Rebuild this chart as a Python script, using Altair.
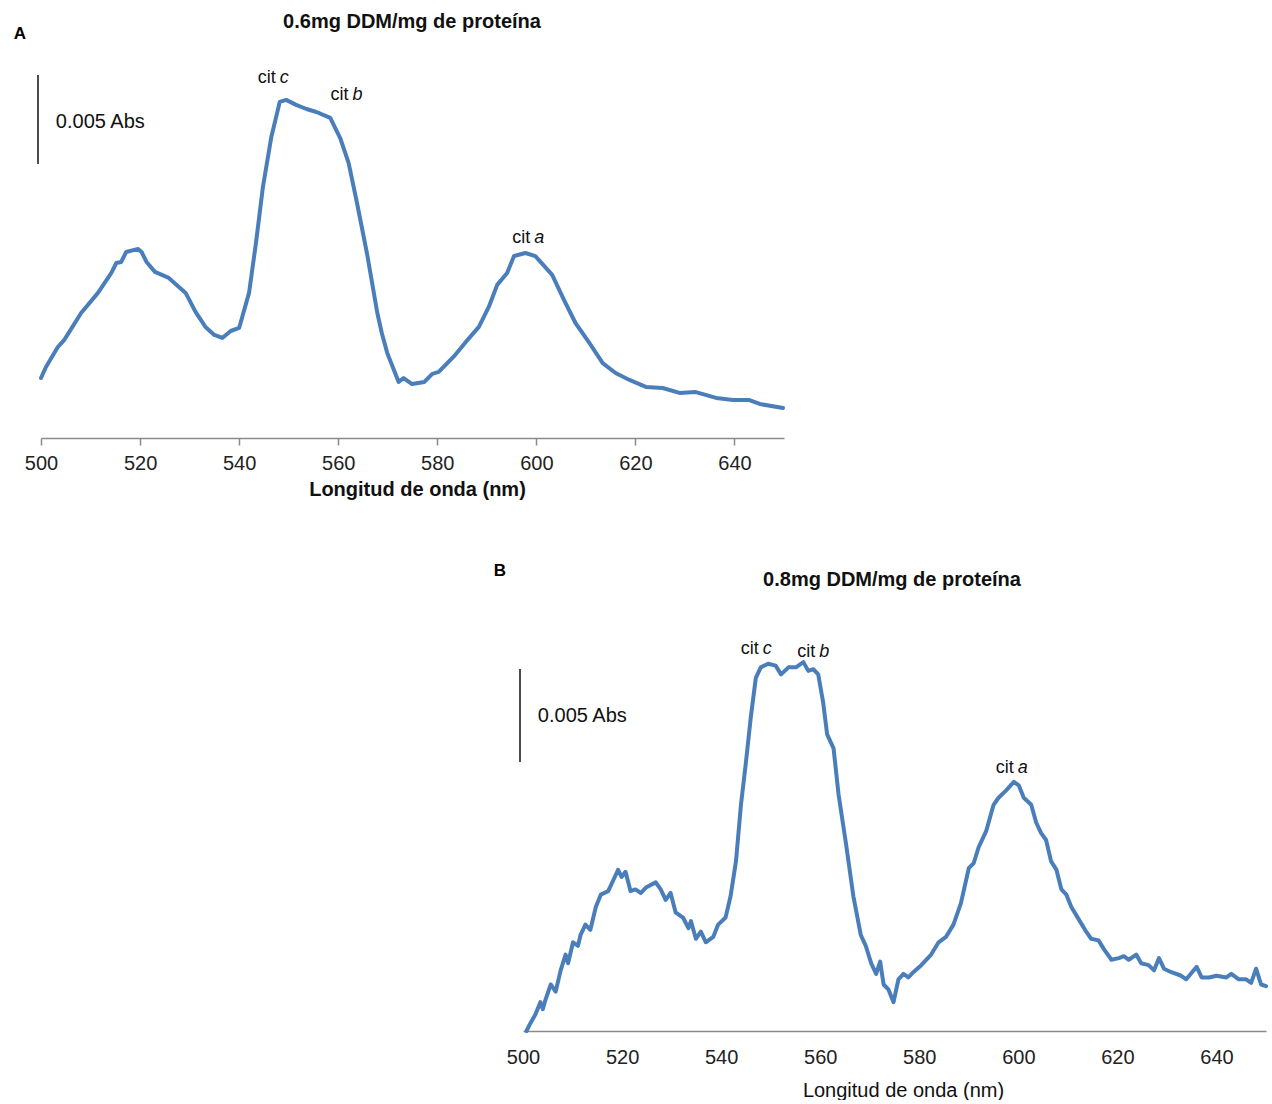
import altair as alt
import pandas as pd

FONT = "Liberation Sans, Arial, Helvetica, sans-serif"
LINE_COLOR = "#4A7EBB"

# ---------------- data (absorbance in mAbs, 1 mAbs = 0.001 Abs) ----------------
A_NM = [500, 501, 503.4, 504.7, 508.1, 511.5, 514.2, 515.2, 516.2, 517.2,
        519.6, 520.3, 521.3, 523, 525.8, 529.2, 531.2, 533.2, 535, 536.6,
        538.3, 540, 542, 543.4, 544.8, 546.5, 548.2, 549.5, 551.5, 553.6,
        555.6, 558.4, 560.4, 562.1, 563.8, 565.8, 567.9, 568.8, 569.9, 572.2,
        573.2, 574.9, 577.4, 579, 580.3, 583.6, 585.6, 588.4, 590.4, 592.1,
        594.1, 595.5, 597.8, 599.8, 603.2, 605.6, 607.9, 610.7, 613.4, 616,
        618.8, 622.1, 625.5, 628.9, 632.2, 636.3, 639.7, 643, 645.1, 649.8]
A_ABS = [3.37, 3.99, 5.11, 5.51, 7.02, 8.15, 9.27, 9.83, 9.89, 10.45,
         10.62, 10.45, 9.89, 9.33, 8.99, 8.15, 7.08, 6.24, 5.79, 5.62,
         6.01, 6.18, 8.15, 10.96, 14.10, 16.91, 18.88, 18.99, 18.71, 18.48,
         18.31, 17.98, 16.85, 15.45, 13.20, 10.39, 7.02, 5.90, 4.78, 3.15,
         3.37, 3.03, 3.15, 3.60, 3.71, 4.66, 5.34, 6.24, 7.36, 8.60,
         9.27, 10.22, 10.39, 10.22, 9.16, 7.75, 6.46, 5.34, 4.21, 3.65,
         3.26, 2.87, 2.81, 2.53, 2.58, 2.25, 2.13, 2.13, 1.91, 1.69]

B_NM = [500.7, 501.5, 502.5, 503.5, 504.0, 504.5, 505.6, 506.6, 507.6, 508.6,
        509.1, 510.1, 511.1, 511.6, 512.6, 513.6, 514.7, 515.7, 517.2, 518.2,
        519.2, 519.9, 520.7, 521.7, 522.7, 523.8, 524.8, 526.8, 527.8, 528.8,
        529.8, 530.8, 532.3, 533.4, 533.9, 534.9, 535.9, 536.9, 538.4, 539.4,
        540.9, 541.9, 543.0, 544.0, 545.0, 546.0, 547.0, 548.0, 549.5, 551.0,
        552.1, 553.6, 555.1, 556.6, 557.6, 558.6, 559.6, 560.6, 561.4, 562.7,
        563.7, 565.2, 566.7, 568.2, 569.2, 570.3, 571.3, 572.1, 572.8, 573.8,
        574.8, 575.8, 576.8, 577.8, 578.8, 580.4, 582.4, 583.9, 585.4, 586.9,
        588.4, 590.0, 591.0, 592.0, 593.5, 595.0, 596.0, 597.5, 599.1, 600.1,
        601.1, 602.6, 603.6, 604.6, 605.6, 606.6, 607.7, 608.7, 609.7, 610.7,
        612.2, 613.7, 614.7, 616.2, 617.3, 618.8, 620.3, 621.3, 622.3, 623.8,
        624.8, 626.3, 627.4, 628.4, 629.4, 630.9, 632.9, 633.9, 636.0, 637.0,
        638.5, 640.0, 642.0, 643.0, 644.5, 646.0, 647.0, 648.0, 649.0, 650.0]
B_ABS = [0.0, 0.42, 0.89, 1.55, 1.17, 1.65, 2.50, 2.12, 3.26, 4.11,
         3.64, 4.77, 4.58, 5.15, 5.72, 5.44, 6.67, 7.33, 7.52, 8.09,
         8.66, 8.28, 8.56, 7.52, 7.61, 7.42, 7.71, 7.99, 7.61, 7.05,
         7.42, 6.38, 6.10, 5.53, 5.91, 4.96, 5.34, 4.77, 5.06, 5.72,
         6.10, 7.24, 9.13, 12.16, 14.43, 16.89, 18.98, 19.55, 19.74, 19.64,
         19.17, 19.55, 19.55, 19.83, 19.36, 19.45, 19.17, 17.65, 15.95, 15.19,
         12.73, 10.08, 7.24, 5.15, 4.58, 3.64, 3.07, 3.73, 2.50, 2.22,
         1.55, 2.78, 3.07, 2.88, 3.16, 3.54, 4.11, 4.77, 5.06, 5.72,
         6.86, 8.75, 9.03, 9.89, 10.74, 12.16, 12.54, 12.92, 13.39, 13.20,
         12.54, 12.16, 11.21, 10.64, 10.27, 9.13, 8.66, 7.61, 7.33, 6.67,
         6.00, 5.34, 4.96, 4.87, 4.39, 3.83, 3.92, 4.02, 3.83, 4.11,
         3.64, 3.54, 3.26, 3.92, 3.35, 3.16, 2.97, 2.78, 3.45, 2.88,
         2.88, 2.97, 2.88, 3.07, 2.78, 2.78, 2.59, 3.35, 2.50, 2.41]

TICKS = [500, 520, 540, 560, 580, 600, 620, 640]
X_DOMAIN = [500, 650]

A_TITLE = "0.6mg DDM/mg de proteína"
B_TITLE = "0.8mg DDM/mg de proteína"
X_TITLE = "Longitud de onda (nm)"
SCALE_LABEL = "0.005 Abs"
SCALE_LEN = 5  # mAbs = 0.005 Abs

CIT_PREFIX = ["cit", "cit", "cit"]
CIT_LETTERS = ["c", "b", "a"]
A_CIT_NM = [547.8, 562.5, 599.2]
A_CIT_Y = [20.22, 19.27, 11.24]
B_CIT_NM = [548.0, 559.4, 599.5]
B_CIT_Y = [20.54, 20.38, 14.14]

PANEL_W = 743


def panel(nm, vals, ytop, height, cit_nm, cit_y, bar_top, txt_y, letter,
          letter_xy, title, title_xy, axis):
    xs = alt.Scale(domain=X_DOMAIN, nice=False, zero=False)
    ys = alt.Scale(domain=[0, ytop], nice=False, zero=False)
    X = alt.X("nm:Q", scale=xs, axis=axis)
    Y = alt.Y("abs:Q", scale=ys, axis=None)

    line = alt.Chart(pd.DataFrame({"nm": nm, "abs": vals})).mark_line(
        color=LINE_COLOR, strokeWidth=4, strokeJoin="round", strokeCap="round"
    ).encode(x=X, y=Y)

    labels = pd.DataFrame({"nm": cit_nm, "abs": cit_y,
                           "pre": CIT_PREFIX, "sp": CIT_LETTERS})
    pre = alt.Chart(labels).mark_text(
        align="right", baseline="middle", fontSize=18, font=FONT, dx=-2, color="#111"
    ).encode(x=X, y=Y, text="pre:N")
    sp = alt.Chart(labels).mark_text(
        align="left", baseline="middle", fontSize=18, font=FONT, dx=2,
        fontStyle="italic", color="#111"
    ).encode(x=X, y=Y, text="sp:N")

    bar = alt.Chart(pd.DataFrame({"abs": [bar_top - SCALE_LEN], "abs2": [bar_top]})).mark_rule(
        color="black", strokeWidth=1.4
    ).encode(x=alt.value(-3), y=Y, y2="abs2:Q")

    stxt = alt.Chart(pd.DataFrame({"nm": [503.0], "abs": [txt_y], "t": [SCALE_LABEL]})).mark_text(
        align="left", baseline="middle", fontSize=20, font=FONT, color="#111"
    ).encode(x=X, y=Y, text="t:N")

    lett = alt.Chart(pd.DataFrame({"t": [letter]})).mark_text(
        align="center", baseline="middle", fontSize=17, fontWeight="bold", font=FONT, color="#000"
    ).encode(x=alt.value(letter_xy[0]), y=alt.value(letter_xy[1]), text="t:N")

    ttl = alt.Chart(pd.DataFrame({"t": [title]})).mark_text(
        align="center", baseline="middle", fontSize=20, fontWeight="bold", font=FONT, color="#111"
    ).encode(x=alt.value(title_xy[0]), y=alt.value(title_xy[1]), text="t:N")

    return alt.layer(line, bar, stxt, pre, sp, lett, ttl).properties(
        width=PANEL_W, height=height
    )


axis_a = alt.Axis(values=TICKS, format="d", labelFontSize=20, labelFont=FONT,
                  labelColor="#222", labelFlush=False, domainColor="#8a8a8a",
                  domainWidth=1.6, tickColor="#8a8a8a", tickWidth=1.5, tickSize=7,
                  labelPadding=8, grid=False, title=X_TITLE, titleFont=FONT,
                  titleFontSize=20, titleFontWeight="bold", titleColor="#111",
                  titleBaseline="top", titleY=41, titleX=376)
axis_b = alt.Axis(values=TICKS, format="d", labelFontSize=20, labelFont=FONT,
                  labelColor="#222", labelFlush=False, domainColor="#8a8a8a",
                  domainWidth=1.6, ticks=False, labelPadding=16, grid=False,
                  title=X_TITLE, titleFont=FONT, titleFontSize=20,
                  titleFontWeight="normal", titleColor="#111",
                  titleBaseline="top", titleY=49, titleX=380)

chart_a = panel(A_NM, A_ABS, 20.67, 368, A_CIT_NM, A_CIT_Y, 20.39, 17.75, "A",
                (-21, -36), A_TITLE, (371, -48), axis_a)
chart_b = panel(B_NM, B_ABS, 21.02, 391, B_CIT_NM, B_CIT_Y, 19.46, 16.94, "B",
                (-23, -69), B_TITLE, (369, -60), axis_b)

spacer = alt.Chart(pd.DataFrame({"v": [0]})).mark_point(opacity=0).encode(
    x=alt.value(0), y=alt.value(0)
).properties(width=482, height=391)

chart = alt.vconcat(
    chart_a,
    alt.hconcat(spacer, chart_b, spacing=0, bounds="flush"),
    spacing=202, bounds="flush",
).configure(
    padding={"left": 13, "top": 12, "right": 0, "bottom": 0}, background="white"
).configure_view(stroke=None)

chart.save("out.html", embed_options={"renderer": "svg", "actions": False})
